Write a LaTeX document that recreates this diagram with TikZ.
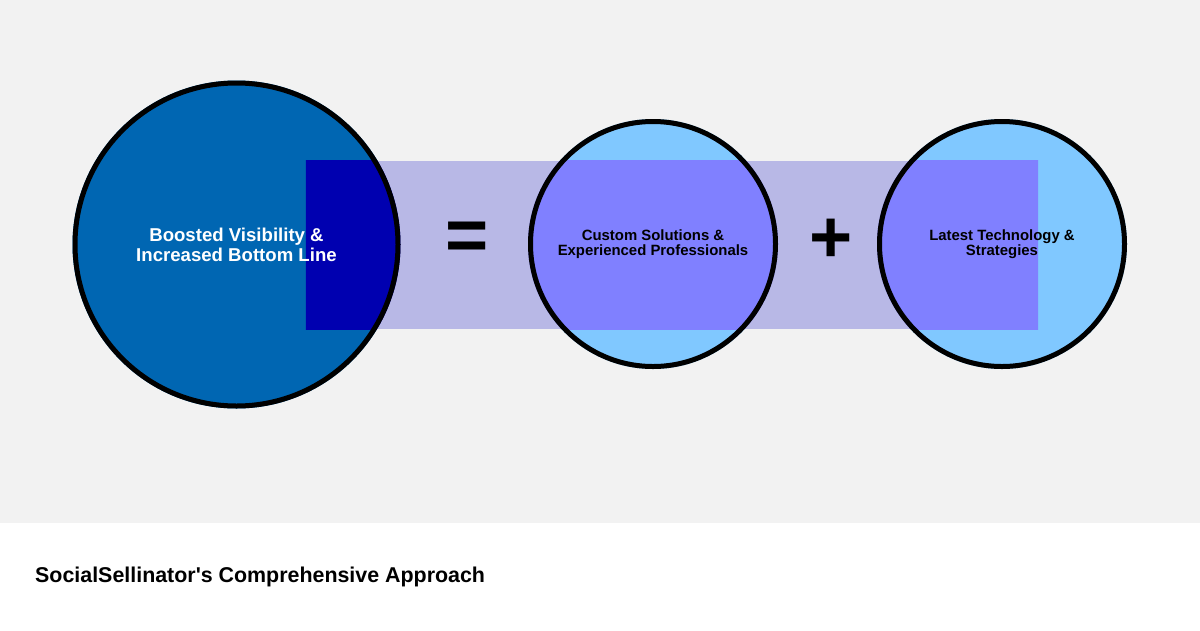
\documentclass[tikz,border=0pt]{standalone}
\usepackage{fontspec}
\setmainfont{Liberation Sans}
\definecolor{pagegray}{HTML}{F2F2F2}
\definecolor{resultblue}{HTML}{0066B2}
\definecolor{resultdeep}{HTML}{0000B0}
\definecolor{partblue}{HTML}{80C8FF}
\definecolor{partdeep}{HTML}{8080FF}
\definecolor{bandlav}{HTML}{B8B8E6}
\tikzset{
  bubble/.style={circle, inner sep=0pt, minimum size=#1},
  ring/.style={draw=black, line width=5pt},
  bubbletext/.style={align=center, font=\bfseries\fontsize{#1}{#1}\selectfont},
  sign/.style={font=\bfseries\fontsize{74}{74}\selectfont, inner sep=0pt}
}
\begin{document}
\begin{tikzpicture}[x=1pt, y=-1pt]
    \useasboundingbox (0,0) rectangle (1200,630);
    \fill[white] (0,0) rectangle (1200,630);
    \fill[pagegray] (0,0) rectangle (1200,523);

    % circles and the band behind them
    \node[bubble=328pt, fill=resultblue] at (236.5,244.5) (result) {};
    \node[bubble=250pt, fill=partblue] at (653,244) (custom) {};
    \node[bubble=250pt, fill=partblue] at (1002,244) (tech) {};
    \node[fill=bandlav, minimum width=732pt, minimum height=168pt, inner sep=0pt] at (672,245) (band) {};

    % where the band covers the circles
    \begin{scope}
        \clip (band.south west) rectangle (band.north east);
        \fill[resultdeep] (result.center) circle[radius=164pt];
        \fill[partdeep] (custom.center) circle[radius=125pt];
        \fill[partdeep] (tech.center) circle[radius=125pt];
    \end{scope}

    \draw[ring] (result.center) circle[radius=161.5pt];
    \draw[ring] (custom.center) circle[radius=122.5pt];
    \draw[ring] (tech.center) circle[radius=122.5pt];

    \node[bubbletext=18.6, white] at (result.center) (resulttext) {Boosted Visibility \&\\[1.5pt]Increased Bottom Line};
    \node[bubbletext=14.9] at (custom.center) (customtext) {Custom Solutions \&\\[0.5pt]Experienced Professionals};
    \node[bubbletext=14.9] at (tech.center) (techtext) {Latest Technology \&\\[0.5pt]Strategies};

    \node[sign] at (467,241) (equals) {=};
    \node[sign] at (831,241) (plus) {+};

    \node[anchor=base west, inner sep=0pt, font=\bfseries\fontsize{21.4}{25}\selectfont] at (35,582) (title) {SocialSellinator\textquotesingle s Comprehensive Approach};
\end{tikzpicture}
\end{document}
